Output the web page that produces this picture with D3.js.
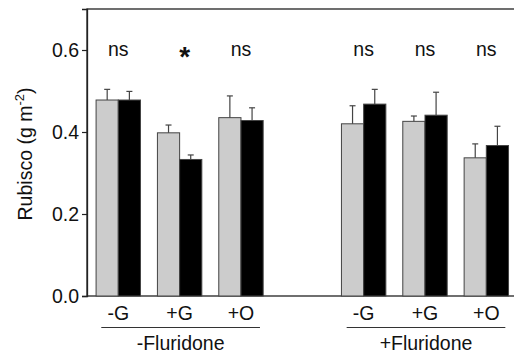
<!DOCTYPE html>
<html><head><meta charset="utf-8">
<script src="https://cdn.jsdelivr.net/npm/d3@7"></script>
<style>body{margin:0;background:#fff}svg{display:block;font-family:"Liberation Sans",Arial,Helvetica,sans-serif}</style>
</head><body><svg id="c" width="514" height="356"></svg>
<script>
const categories = ["-G","+G","+O","-G","+G","+O"];
const positions = [0,1,2,4,5,6];
const grayValues = [0.478,0.398,0.435,0.420,0.426,0.337];
const grayErrors = [0.026,0.019,0.053,0.044,0.013,0.034];
const blackValues = [0.478,0.333,0.428,0.468,0.441,0.367];
const blackErrors = [0.021,0.011,0.031,0.036,0.056,0.047];
const significance = ["ns","*","ns","ns","ns","ns"];
const groupLabels = ["-Fluridone","+Fluridone"];
const groupSpans = [[0,2],[4,6]];
const yTicks = [0.0,0.2,0.4,0.6];

const FS = 19.5;
const svg = d3.select("#c");
const x = d3.scaleLinear().domain([-0.51,6.5]).range([87,517]);
const y = d3.scaleLinear().domain([0,0.7]).range([296,9]);
const bw = 22.2;

svg.append("rect").attr("x",x(-0.51)).attr("y",y(0.7)).attr("width",x(6.5)-x(-0.51)).attr("height",y(0)-y(0.7))
  .attr("fill","none").attr("stroke","#222").attr("stroke-width",1.3);

const ya = svg.append("g").attr("transform",`translate(${x(-0.51)},0)`)
  .call(d3.axisLeft(y).tickValues(yTicks).tickFormat(d3.format(".1f")).tickSize(5).tickPadding(3));
ya.attr("font-size",null).attr("font-family",null);
ya.select(".domain").attr("stroke","#222").attr("stroke-width",1.3);
ya.selectAll(".tick line").attr("stroke","#222").attr("stroke-width",1.2);
ya.selectAll("text").style("font-size",FS+"px").attr("fill","#111");

svg.append("text").attr("transform","translate(32,154) rotate(-90)").attr("text-anchor","middle")
  .style("font-size",FS+"px").attr("fill","#111")
  .html('Rubisco (g m<tspan dy="-8" style="font-size:13px">-2</tspan><tspan dy="8">)</tspan>');

const data = positions.map((p,i)=>({p,i}));
const g = svg.append("g");
function drawSeries(vals, errs, offset, fill){
  g.selectAll(null).data(data).enter().append("rect")
    .attr("x",d=>x(d.p)+offset).attr("y",d=>y(vals[d.i]))
    .attr("width",bw).attr("height",d=>y(0)-y(vals[d.i]))
    .attr("fill",fill).attr("stroke","#444").attr("stroke-width",1);
  const e = g.selectAll(null).data(data).enter().append("g").attr("stroke","#444").attr("stroke-width",1.2);
  e.append("line").attr("x1",d=>x(d.p)+offset+bw/2).attr("x2",d=>x(d.p)+offset+bw/2)
    .attr("y1",d=>y(vals[d.i])).attr("y2",d=>y(vals[d.i]+errs[d.i]));
  e.append("line").attr("x1",d=>x(d.p)+offset+bw/2-3).attr("x2",d=>x(d.p)+offset+bw/2+3)
    .attr("y1",d=>y(vals[d.i]+errs[d.i])).attr("y2",d=>y(vals[d.i]+errs[d.i]));
}
drawSeries(grayValues, grayErrors, -bw, "#cccccc");
drawSeries(blackValues, blackErrors, 0, "#000");

svg.selectAll(null).data(data).enter().append("text")
  .attr("x",d=>x(d.p)+(significance[d.i]==="*"?5:0)).attr("y",d=>significance[d.i]==="*"?y(0.6)+16:y(0.6)+6)
  .attr("text-anchor","middle")
  .style("font-size",d=>(significance[d.i]==="*"?28:FS)+"px")
  .attr("font-weight",d=>significance[d.i]==="*"?"bold":"normal")
  .attr("fill","#111").text(d=>significance[d.i]);

svg.selectAll(null).data(data).enter().append("text")
  .attr("x",d=>x(d.p)).attr("y",320).attr("text-anchor","middle")
  .style("font-size",FS+"px").attr("fill","#111").text(d=>categories[d.i]);

groupSpans.forEach((s,k)=>{
  svg.append("line").attr("x1",x(s[0])-17).attr("x2",x(s[1])+19).attr("y1",327.5).attr("y2",327.5)
    .attr("stroke","#333").attr("stroke-width",1.2);
  svg.append("text").attr("x",(x(s[0])+x(s[1]))/2+1).attr("y",350).attr("text-anchor","middle")
    .style("font-size",FS+"px").attr("fill","#111").text(groupLabels[k]);
});
</script></body></html>
